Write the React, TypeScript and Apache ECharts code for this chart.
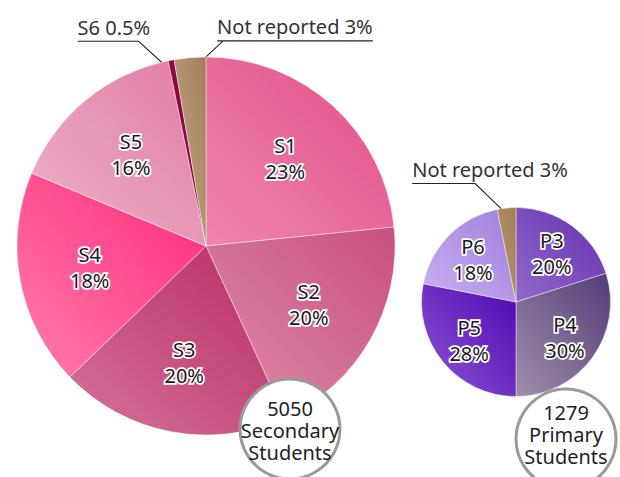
import React, { useEffect, useRef } from "react";
import * as echarts from "echarts";

// ---- Data ----
const secondaryNames = ["S1", "S2", "S3", "S4", "S5", "S6", "Not reported"];
const secondaryValues = [23.4, 19.7, 19.7, 18.5, 15.5, 0.5, 2.7];
const secondaryPct = ["23%", "20%", "20%", "18%", "16%", "0.5%", "3%"];
const secondaryTotal = "5050";
const secondaryCaption = "Secondary\nStudents";

const primaryNames = ["P3", "P4", "P5", "P6", "Not reported"];
const primaryValues = [20.1, 29.9, 28.1, 18.7, 3.2];
const primaryPct = ["20%", "30%", "28%", "18%", "3%"];
const primaryTotal = "1279";
const primaryCaption = "Primary\nStudents";

// ---- Styles ----
const secondaryColors: [string, string][] = [
  ["#e24d88", "#ef86af"],
  ["#c8507f", "#de8dac"],
  ["#ba2b63", "#d3739b"],
  ["#ff287c", "#ff7dac"],
  ["#e27aa5", "#edb4ca"],
  ["#84063a", "#920d44"],
  ["#a27f59", "#c6a886"],
];
const primaryColors: [string, string][] = [
  ["#6430b0", "#9169c9"],
  ["#543c77", "#9f8fab"],
  ["#4f07b0", "#8e57d6"],
  ["#9f7fdc", "#c9b0f0"],
  ["#a27f59", "#ba976f"],
];

// outside label placement (text annotations)
const secondaryOutside: Record<number, { dx: number; dy: number; textDx: number; both: boolean }> = {
  5: { dx: -35, dy: -32, textDx: -61, both: false },
  6: { dx: 32, dy: -30, textDx: -6, both: true },
};
const primaryOutside: Record<number, { dx: number; dy: number; textDx: number; both: boolean }> = {
  4: { dx: -32, dy: -31, textDx: -63, both: false },
};

const BIG_C: [number, number] = [206, 246];
const BIG_R = 189;
const SMALL_C: [number, number] = [516, 302];
const SMALL_R = 94.5;

const FONT = '"Noto Sans", "DejaVu Sans", sans-serif';

function grad(c: [string, string]) {
  return new echarts.graphic.LinearGradient(1, 0, 0, 1, [
    { offset: 0, color: c[0] },
    { offset: 1, color: c[1] },
  ]);
}

function makeLayout(center: [number, number], R: number, cfgs: Record<number, any>) {
  return (params: any) => {
    const cfg = cfgs[params.dataIndex];
    if (!cfg || !params.labelLinePoints) return {};
    const [ox, oy] = params.labelLinePoints[0];
    const ang = Math.atan2(oy - center[1], ox - center[0]);
    const sx = center[0] + Math.cos(ang) * R * 0.93;
    const sy = center[1] + Math.sin(ang) * R * 0.93;
    const ex = sx + cfg.dx;
    const ey = sy + cfg.dy;
    const left = ex + cfg.textDx;
    const w = params.labelRect.width;
    const pts: number[][] = [
      [sx, sy],
      [ex, ey],
      [left, ey],
    ];
    if (cfg.both) pts.push([left + w, ey]);
    return {
      x: left,
      y: ey - 4,
      align: "left",
      verticalAlign: "bottom",
      labelLinePoints: pts,
    };
  };
}

function mainSeries(
  names: string[],
  values: number[],
  pct: string[],
  colors: [string, string][],
  center: [number, number],
  R: number,
  outside: Record<number, any>
) {
  return {
    type: "pie",
    center,
    radius: [0, R],
    startAngle: 90,
    clockwise: true,
    avoidLabelOverlap: false,
    z: 2,
    itemStyle: { borderColor: "rgba(255,255,255,0.55)", borderWidth: 0.8 },
    label: { show: false },
    labelLine: { show: false },
    labelLayout: makeLayout(center, R, outside),
    data: names.map((n, i) => {
      const isOut = outside[i] !== undefined;
      return {
        name: n,
        value: values[i],
        itemStyle: { color: grad(colors[i]) },
        label: isOut
          ? {
              show: true,
              position: "outside",
              formatter: `${n} ${pct[i]}`,
              fontSize: 20,
              color: "#333",
              fontFamily: FONT,
            }
          : { show: false },
        labelLine: isOut
          ? { show: true, length: 20, length2: 20, lineStyle: { color: "#222", width: 1.1 } }
          : { show: false },
      };
    }),
  };
}

function labelSeries(
  names: string[],
  values: number[],
  pct: string[],
  center: [number, number],
  R: number,
  outside: Record<number, any>
) {
  return {
    type: "pie",
    center,
    radius: [R * 0.22, R],
    startAngle: 90,
    clockwise: true,
    silent: true,
    avoidLabelOverlap: false,
    z: 3,
    itemStyle: { color: "rgba(0,0,0,0)" },
    labelLine: { show: false },
    label: {
      show: true,
      position: "inside",
      fontSize: 20,
      lineHeight: 26,
      color: "#1a1a1a",
      textBorderColor: "#fff",
      textBorderWidth: 3.5,
      fontFamily: FONT,
      align: "center",
    },
    data: names.map((n, i) => ({
      name: n,
      value: values[i],
      label:
        outside[i] !== undefined
          ? { show: false }
          : { show: true, formatter: `${n}\n${pct[i]}` },
    })),
  };
}

export default function App() {
  const ref = useRef<HTMLDivElement>(null);
  useEffect(() => {
    if (!ref.current) return;
    const chart = echarts.init(ref.current, undefined, { renderer: "svg" });
    chart.setOption({
      animation: false,
      backgroundColor: "#fff",
      textStyle: { fontFamily: FONT },
      series: [
        mainSeries(secondaryNames, secondaryValues, secondaryPct, secondaryColors, BIG_C, BIG_R, secondaryOutside),
        labelSeries(secondaryNames, secondaryValues, secondaryPct, BIG_C, BIG_R, secondaryOutside),
        mainSeries(primaryNames, primaryValues, primaryPct, primaryColors, SMALL_C, SMALL_R, primaryOutside),
        labelSeries(primaryNames, primaryValues, primaryPct, SMALL_C, SMALL_R, primaryOutside),
      ],
      graphic: [
        {
          type: "circle",
          z: 100,
          shape: { cx: 290, cy: 429, r: 50 },
          style: { fill: "#fff", stroke: "#9a9a9a", lineWidth: 3 },
        },
        {
          type: "text",
          z: 101,
          x: 290,
          y: 430,
          style: {
            text: `${secondaryTotal}\n${secondaryCaption}`,
            fontSize: 20,
            lineHeight: 22,
            fontFamily: FONT,
            fill: "#222",
            align: "center",
            verticalAlign: "middle",
          },
        },
        {
          type: "circle",
          z: 100,
          shape: { cx: 566, cy: 439, r: 50 },
          style: { fill: "#fff", stroke: "#9a9a9a", lineWidth: 3 },
        },
        {
          type: "text",
          z: 101,
          x: 566,
          y: 434,
          style: {
            text: `${primaryTotal}\n${primaryCaption}`,
            fontSize: 20,
            lineHeight: 22,
            fontFamily: FONT,
            fill: "#222",
            align: "center",
            verticalAlign: "middle",
          },
        },
      ],
    });
    return () => chart.dispose();
  }, []);
  return (
    <div
      ref={ref}
      style={{ position: "fixed", left: 0, top: 0, width: 620, height: 477, background: "#fff" }}
    />
  );
}
